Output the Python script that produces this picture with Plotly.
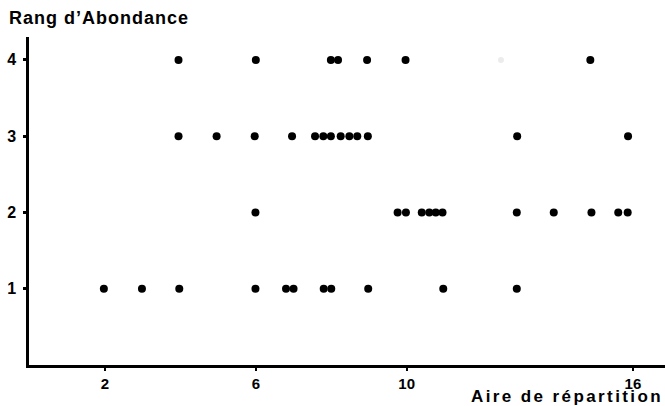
import plotly.graph_objects as go

# Aire de répartition (x) per abundance rank (y)
rank4_x = [3.95, 6.0, 7.99, 8.18, 8.95, 9.97, 14.87]
rank3_x = [3.95, 4.96, 5.97, 6.96, 7.57, 7.79, 7.99, 8.25, 8.48, 8.69, 8.97, 12.93, 15.87]
rank2_x = [5.99, 9.76, 9.98, 10.4, 10.6, 10.77, 10.95, 12.92, 13.9, 14.9, 15.61, 15.86]
rank1_x = [1.97, 2.98, 3.97, 5.99, 6.8, 7.0, 7.8, 8.0, 8.98, 10.97, 12.92]
faint_x = [12.5]
faint_y = [4]

x_ticks = [2, 6, 10, 16]
y_ticks = [1, 2, 3, 4]

xs = rank4_x + rank3_x + rank2_x + rank1_x
ys = [4] * len(rank4_x) + [3] * len(rank3_x) + [2] * len(rank2_x) + [1] * len(rank1_x)

fig = go.Figure()
fig.add_trace(go.Scatter(x=faint_x, y=faint_y, mode="markers",
                         marker=dict(size=6, color="#ececec"), hoverinfo="skip"))
fig.add_trace(go.Scatter(x=xs, y=ys, mode="markers",
                         marker=dict(size=8, color="black")))

font = dict(family="Liberation Sans, Arial, sans-serif", color="black")

fig.update_layout(
    width=665, height=406,
    margin=dict(l=29, r=0, t=37, b=41),
    paper_bgcolor="white", plot_bgcolor="white",
    showlegend=False,
    xaxis=dict(range=[-0.015, 16.85], tickvals=x_ticks, ticktext=[str(t) for t in x_ticks],
               showgrid=False, zeroline=False, showline=True, linecolor="black", linewidth=2.5,
               ticks="outside", ticklen=3, tickwidth=2, tickcolor="black",
               tickfont=dict(size=15, weight="bold", **font)),
    yaxis=dict(range=[0, 4.3], tickvals=y_ticks, ticktext=[f"{t}" for t in y_ticks],
               showgrid=False, zeroline=False, showline=True, linecolor="black", linewidth=2.5,
               ticks="outside", ticklen=3, tickwidth=2.5, tickcolor="black",
               ticklabelstandoff=4,
               tickfont=dict(size=16, weight="bold", **font)),
    annotations=[
        dict(text='<span style="letter-spacing:1px">Rang d’Abondance</span>',
             xref="paper", yref="paper", x=-22 / 636, y=1 + 19 / 328,
             xanchor="left", yanchor="middle", showarrow=False,
             font=dict(size=18, weight="bold", **font)),
        dict(text='<span style="letter-spacing:2.4px">Aire de répartition</span>',
             xref="paper", yref="paper", x=1.0, y=-31 / 328,
             xanchor="right", yanchor="middle", showarrow=False,
             font=dict(size=17, weight="bold", **font)),
    ],
)

fig.write_html("out.html", config={"displayModeBar": False},
               post_script="document.body.style.margin='0';document.body.style.overflow='hidden';")
